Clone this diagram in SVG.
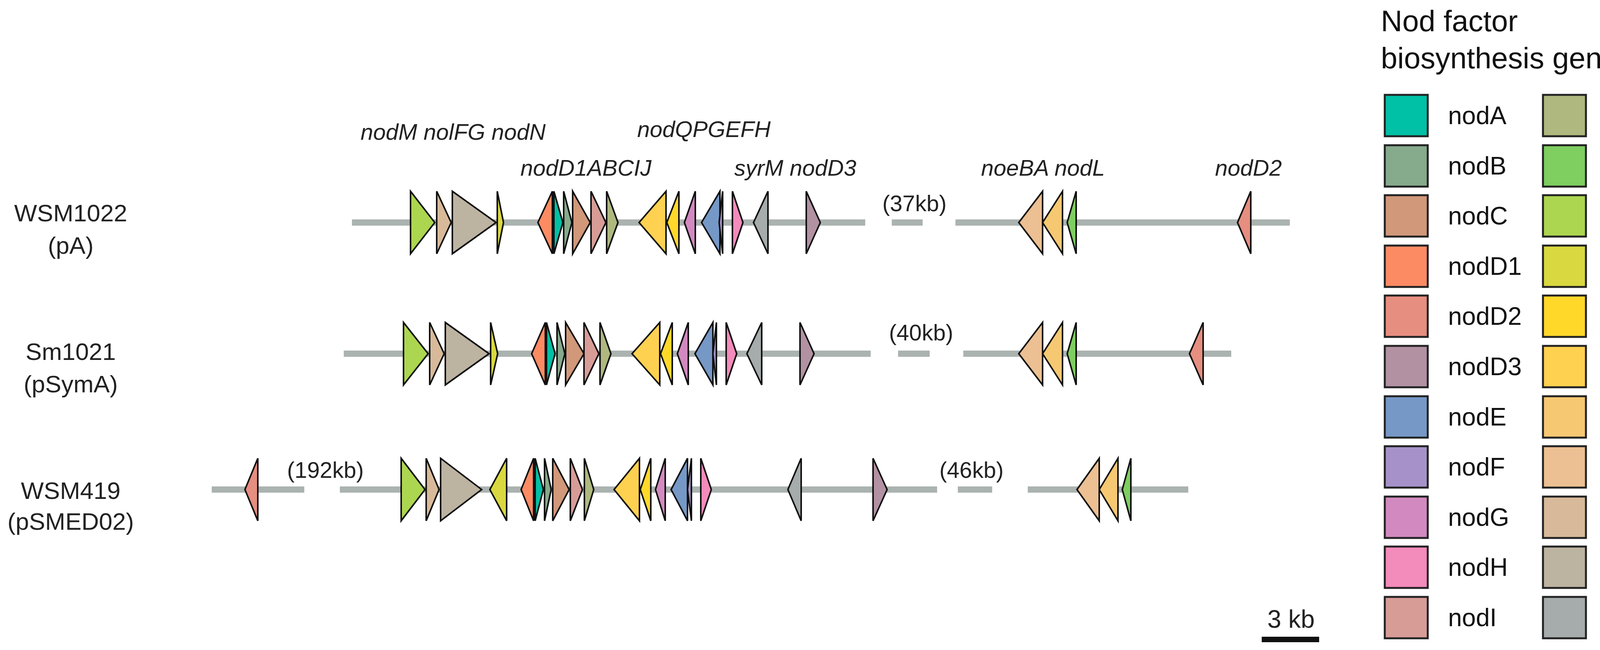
<svg xmlns="http://www.w3.org/2000/svg" width="4284" height="1665" viewBox="0 0 4284 1665">
<style>
.bb{stroke:#ABB3B0;stroke-width:16;fill:none}
polygon{stroke:#111;stroke-width:4;stroke-linejoin:miter}
.sw{stroke:#222;stroke-width:5}
.lab{font-family:"Liberation Sans",Arial,sans-serif;font-size:64px;fill:#111}
.gl{font-family:"Liberation Sans",Arial,sans-serif;font-style:italic;font-size:58px;fill:#222;text-anchor:middle}
.st{font-family:"Liberation Sans",Arial,sans-serif;font-size:62px;fill:#222;text-anchor:middle}
.kb{font-family:"Liberation Sans",Arial,sans-serif;font-size:58px;fill:#222;text-anchor:middle}
.A{fill:#00C0A5}.B{fill:#86AA8C}.C{fill:#D1987A}.D1{fill:#FC8B64}.D2{fill:#E68E80}.D3{fill:#B291A3}
.E{fill:#7598C7}.F{fill:#A692C8}.G{fill:#D289C0}.H{fill:#F38BBB}.I{fill:#D89C97}.J{fill:#AEB87F}
.L{fill:#7ECE60}.M{fill:#ACD650}.N{fill:#D9D840}.P{fill:#FFD82A}.Q{fill:#FFD150}.eA{fill:#F7C872}
.eB{fill:#ECC092}.lF{fill:#D8BA9A}.lG{fill:#BDB3A1}.S{fill:#A6ABAB}
</style>
<g id="strain-labels">
<text class="st" x="181" y="567">WSM1022</text><text class="st" x="181" y="650">(pA)</text>
<text class="st" x="181" y="922">Sm1021</text><text class="st" x="181" y="1005">(pSymA)</text>
<text class="st" x="181" y="1278">WSM419</text><text class="st" x="181" y="1357">(pSMED02)</text>
</g>
<g id="gene-labels">
<text class="gl" x="1160" y="358">nodM nolFG nodN</text>
<text class="gl" x="1802" y="351">nodQPGEFH</text>
<text class="gl" x="1500" y="450">nodD1ABCIJ</text>
<text class="gl" x="2036" y="450">syrM nodD3</text>
<text class="gl" x="2670" y="450">noeBA nodL</text>
<text class="gl" x="3196" y="450">nodD2</text>
</g>
<g id="backbones">
<path class="bb" d="M901 570H2215M2283 570H2362M2446 570H3302"/>
<path class="bb" d="M880 906H2229M2299 906H2380M2466 906H3152"/>
<path class="bb" d="M542 1254H779M870 1254H2399M2452 1254H2540M2631 1254H3042"/>
<text class="kb" x="2341" y="541">(37kb)</text>
<text class="kb" x="2358" y="872">(40kb)</text>
<text class="kb" x="833" y="1224">(192kb)</text>
<text class="kb" x="2487" y="1224">(46kb)</text>
</g>
<g id="track-WSM1022">
<polygon class="M" points="1051,490 1113,570 1051,650"/>
<polygon class="lF" points="1118,490 1155,570 1118,650"/>
<polygon class="lG" points="1158,490 1270,570 1158,650"/>
<polygon class="N" points="1273,490 1289,570 1273,650"/>
<polygon class="D1" points="1414,490 1377,570 1414,650"/>
<polygon class="A" points="1418,490 1441,570 1418,650"/>
<polygon class="B" points="1443,490 1464,570 1443,650"/>
<polygon class="C" points="1466,490 1511,570 1466,650"/>
<polygon class="I" points="1513,490 1551,570 1513,650"/>
<polygon class="J" points="1553,490 1582,570 1553,650"/>
<polygon class="Q" points="1705,490 1636,570 1705,650"/>
<polygon class="P" points="1738,490 1707,570 1738,650"/>
<polygon class="G" points="1780,490 1752,570 1780,650"/>
<polygon class="E" points="1843,490 1796,570 1843,650"/>
<polygon class="F" points="1850,490 1841,570 1850,650"/>
<polygon class="H" points="1875,490 1902,570 1875,650"/>
<polygon class="S" points="1966,490 1929,570 1966,650"/>
<polygon class="D3" points="2064,490 2100,570 2064,650"/>
<polygon class="eB" points="2669,490 2608,570 2669,650"/>
<polygon class="eA" points="2720,490 2669,570 2720,650"/>
<polygon class="L" points="2755,490 2732,570 2755,650"/>
<polygon class="D2" points="3202,490 3168,570 3202,650"/>
</g>
<g id="track-Sm1021">
<polygon class="M" points="1033,826 1096,906 1033,986"/>
<polygon class="lF" points="1100,826 1137,906 1100,986"/>
<polygon class="lG" points="1140,826 1252,906 1140,986"/>
<polygon class="N" points="1256,826 1274,906 1256,986"/>
<polygon class="D1" points="1396,826 1361,906 1396,986"/>
<polygon class="A" points="1399,826 1421,906 1399,986"/>
<polygon class="B" points="1426,826 1446,906 1426,986"/>
<polygon class="C" points="1448,826 1495,906 1448,986"/>
<polygon class="I" points="1495,826 1533,906 1495,986"/>
<polygon class="J" points="1536,826 1564,906 1536,986"/>
<polygon class="Q" points="1689,826 1618,906 1689,986"/>
<polygon class="P" points="1721,826 1691,906 1721,986"/>
<polygon class="G" points="1762,826 1734,906 1762,986"/>
<polygon class="E" points="1825,826 1779,906 1825,986"/>
<polygon class="F" points="1834,826 1825,906 1834,986"/>
<polygon class="H" points="1859,826 1886,906 1859,986"/>
<polygon class="S" points="1950,826 1912,906 1950,986"/>
<polygon class="D3" points="2048,826 2084,906 2048,986"/>
<polygon class="eB" points="2669,826 2608,906 2669,986"/>
<polygon class="eA" points="2720,826 2669,906 2720,986"/>
<polygon class="L" points="2755,826 2732,906 2755,986"/>
<polygon class="D2" points="3080,826 3045,906 3080,986"/>
</g>
<g id="track-WSM419">
<polygon class="D2" points="660,1174 627,1254 660,1334"/>
<polygon class="M" points="1027,1174 1088,1254 1027,1334"/>
<polygon class="lF" points="1091,1174 1124,1254 1091,1334"/>
<polygon class="lG" points="1128,1174 1233,1254 1128,1334"/>
<polygon class="N" points="1297,1174 1254,1254 1297,1334"/>
<polygon class="D1" points="1366,1174 1334,1254 1366,1334"/>
<polygon class="A" points="1370,1174 1391,1254 1370,1334"/>
<polygon class="B" points="1394,1174 1411,1254 1394,1334"/>
<polygon class="C" points="1415,1174 1457,1254 1415,1334"/>
<polygon class="I" points="1460,1174 1491,1254 1460,1334"/>
<polygon class="J" points="1496,1174 1520,1254 1496,1334"/>
<polygon class="Q" points="1637,1174 1572,1254 1637,1334"/>
<polygon class="P" points="1666,1174 1639,1254 1666,1334"/>
<polygon class="G" points="1703,1174 1678,1254 1703,1334"/>
<polygon class="E" points="1760,1174 1718,1254 1760,1334"/>
<polygon class="F" points="1770,1174 1760,1254 1770,1334"/>
<polygon class="H" points="1794,1174 1821,1254 1794,1334"/>
<polygon class="S" points="2051,1174 2017,1254 2051,1334"/>
<polygon class="D3" points="2235,1174 2271,1254 2235,1334"/>
<polygon class="eB" points="2814,1174 2757,1254 2814,1334"/>
<polygon class="eA" points="2862,1174 2814,1254 2862,1334"/>
<polygon class="L" points="2895,1174 2873,1254 2895,1334"/>
</g>
<g id="scale-bar">
<text class="kb" x="3305" y="1608" style="font-size:64px">3 kb</text>
<rect x="3230" y="1631" width="147" height="14" fill="#111"/>
</g>
<g id="legend">
<text class="lab" x="3535" y="80" style="font-size:76px">Nod factor</text>
<text class="lab" x="3535" y="175" style="font-size:76px">biosynthesis genes</text>
<g id="legend-col1">
<rect class="sw A" x="3545" y="243" width="110" height="106"/><text class="lab" x="3707" y="318">nodA</text>
<rect class="sw B" x="3545" y="372" width="110" height="106"/><text class="lab" x="3707" y="447">nodB</text>
<rect class="sw C" x="3545" y="500" width="110" height="106"/><text class="lab" x="3707" y="575">nodC</text>
<rect class="sw D1" x="3545" y="629" width="110" height="106"/><text class="lab" x="3707" y="704">nodD1</text>
<rect class="sw D2" x="3545" y="757" width="110" height="106"/><text class="lab" x="3707" y="832">nodD2</text>
<rect class="sw D3" x="3545" y="886" width="110" height="106"/><text class="lab" x="3707" y="961">nodD3</text>
<rect class="sw E" x="3545" y="1015" width="110" height="106"/><text class="lab" x="3707" y="1090">nodE</text>
<rect class="sw F" x="3545" y="1143" width="110" height="106"/><text class="lab" x="3707" y="1218">nodF</text>
<rect class="sw G" x="3545" y="1272" width="110" height="106"/><text class="lab" x="3707" y="1347">nodG</text>
<rect class="sw H" x="3545" y="1400" width="110" height="106"/><text class="lab" x="3707" y="1475">nodH</text>
<rect class="sw I" x="3545" y="1529" width="110" height="106"/><text class="lab" x="3707" y="1604">nodI</text>
</g>
<g id="legend-col2">
<rect class="sw J" x="3950" y="243" width="110" height="106"/><text class="lab" x="4110" y="318">nodJ</text>
<rect class="sw L" x="3950" y="372" width="110" height="106"/><text class="lab" x="4110" y="447">nodL</text>
<rect class="sw M" x="3950" y="500" width="110" height="106"/><text class="lab" x="4110" y="575">nodM</text>
<rect class="sw N" x="3950" y="629" width="110" height="106"/><text class="lab" x="4110" y="704">nodN</text>
<rect class="sw P" x="3950" y="757" width="110" height="106"/><text class="lab" x="4110" y="832">nodP</text>
<rect class="sw Q" x="3950" y="886" width="110" height="106"/><text class="lab" x="4110" y="961">nodQ</text>
<rect class="sw eA" x="3950" y="1015" width="110" height="106"/><text class="lab" x="4110" y="1090">noeA</text>
<rect class="sw eB" x="3950" y="1143" width="110" height="106"/><text class="lab" x="4110" y="1218">noeB</text>
<rect class="sw lF" x="3950" y="1272" width="110" height="106"/><text class="lab" x="4110" y="1347">nolF</text>
<rect class="sw lG" x="3950" y="1400" width="110" height="106"/><text class="lab" x="4110" y="1475">nolG</text>
<rect class="sw S" x="3950" y="1529" width="110" height="106"/><text class="lab" x="4110" y="1604">syrM</text>
</g>
</g>
</svg>
